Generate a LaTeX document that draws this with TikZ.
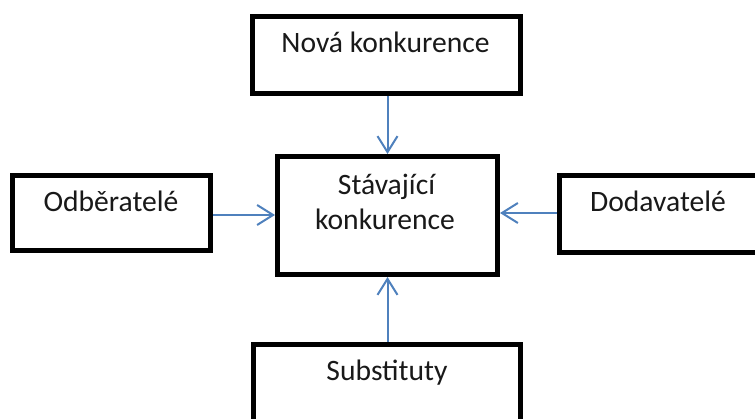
\documentclass[tikz,border=0pt]{standalone}
\usepackage{fontspec}
\setmainfont{Carlito}
\usetikzlibrary{arrows.meta}
\definecolor{arrowblue}{RGB}{79,129,189}
\tikzset{
  box/.style={draw=black, line width=5pt, fill=white, inner sep=0pt, rectangle},
  lbl/.style={anchor=base, inner sep=0pt, font=\fontsize{29.6}{36}\selectfont, text=black!90},
  conn/.style={draw=arrowblue, line width=2pt, -{Straight Barb[length=16pt,width=20pt,line width=2pt]}}
}
\begin{document}
\begin{tikzpicture}[x=1pt,y=-1pt]
\useasboundingbox (0,0) rectangle (755,419);
\clip (0,0) rectangle (755,419);
\fill[white] (0,0) rectangle (755,419);
\node[box, minimum width=268pt, minimum height=77pt] (top) at (386.5,55) {};
\node[box, minimum width=220pt, minimum height=118pt] (ctr) at (387.5,215.5) {};
\node[box, minimum width=198pt, minimum height=75pt] (left) at (111.5,213) {};
\node[box, minimum width=206pt, minimum height=77pt] (right) at (662.5,214) {};
\node[box, minimum width=267pt, minimum height=86pt] (bot) at (387,387.5) {};
\node[lbl] (tTop) at (385.5,53) {Nová konkurence};
\node[lbl] (tCtr1) at (386.5,195) {Stávající};
\node[lbl] (tCtr2) at (385,230) {konkurence};
\node[lbl] (tLeft) at (111,212) {Odběratelé};
\node[lbl] (tRight) at (658,212) {Dodavatelé};
\node[lbl] (tBot) at (387,381) {Substituty};
\draw[conn] (top.south -| ctr.north) -- (ctr.north);
\draw[conn] (bot.north -| ctr.south) -- (ctr.south);
\draw[conn] (left.east |- 0,215) -- (ctr.west |- 0,215);
\draw[conn] (right.west |- 0,213) -- (ctr.east |- 0,213);
\end{tikzpicture}
\end{document}
